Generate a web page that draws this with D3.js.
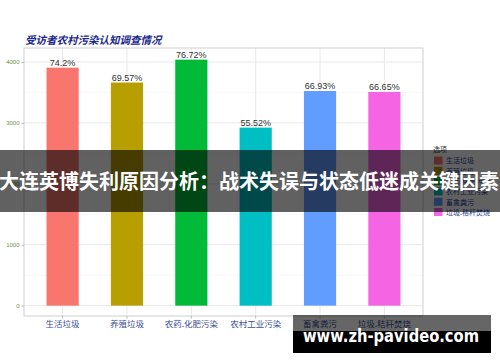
<!DOCTYPE html>
<html>
<head>
<meta charset="utf-8">
<script src="https://cdn.jsdelivr.net/npm/d3@7"></script>
<style>
  body { margin: 0; background: #fff; }
  svg { display: block; }
</style>
</head>
<body>
<svg id="chart" width="500" height="362"></svg>
<script>
// 受访者农村污染认知调查情况 bar chart

var categories = ['生活垃圾', '养殖垃圾', '农药.化肥污染', '农村工业污染', '畜禽粪污', '垃圾.秸秆焚烧'];
var counts = [3907, 3663, 4039, 2923, 3524, 3509];
var pctLabels = ['74.2%', '69.57%', '76.72%', '55.52%', '66.93%', '66.65%'];
var colors = ['#F8766D', '#B79F00', '#00BA38', '#00BFC4', '#619CFF', '#F564E3'];
var yTicks = [0, 1000, 2000, 3000, 4000];
var yMinor = [500, 1500, 2500, 3500];

var cjk = '"Noto Sans CJK SC", "Noto Sans", sans-serif';

var svg = d3.select('svg#chart');

const panel = {left: 24, right: 423, top: 48, bottom: 316};

var x = d3.scaleBand()
  .domain(categories)
  .range([panel.left, panel.right])
  .paddingInner(0.5)
  .paddingOuter(0.35);

var y = d3.scaleLinear()
  .domain([-170, 4230])
  .range([panel.bottom, panel.top]);

// panel background + grid
svg.append('rect')
  .attr('x', panel.left).attr('y', panel.top)
  .attr('width', panel.right - panel.left)
  .attr('height', panel.bottom - panel.top)
  .attr('fill', '#fff');

svg.append('g').selectAll('line')
  .data(yMinor).enter().append('line')
  .attr('x1', panel.left).attr('x2', panel.right)
  .attr('y1', d => y(d)).attr('y2', d => y(d))
  .attr('stroke', '#f4f4f4').attr('stroke-width', 0.6);

svg.append('g').selectAll('line')
  .data(yTicks).enter().append('line')
  .attr('x1', panel.left).attr('x2', panel.right)
  .attr('y1', d => y(d)).attr('y2', d => y(d))
  .attr('stroke', '#e8e8e8').attr('stroke-width', 1);

svg.append('g').selectAll('line')
  .data(categories).enter().append('line')
  .attr('x1', d => x(d) + x.bandwidth() / 2).attr('x2', d => x(d) + x.bandwidth() / 2)
  .attr('y1', panel.top).attr('y2', panel.bottom)
  .attr('stroke', '#e8e8e8').attr('stroke-width', 1);

// bars
svg.append('g').selectAll('rect')
  .data(categories).enter().append('rect')
  .attr('x', d => x(d))
  .attr('width', x.bandwidth())
  .attr('y', (d, i) => y(counts[i]))
  .attr('height', (d, i) => y(0) - y(counts[i]))
  .attr('fill', (d, i) => colors[i]);

// value labels
svg.append('g').selectAll('text')
  .data(categories).enter().append('text')
  .attr('x', d => x(d) + x.bandwidth() / 2)
  .attr('y', (d, i) => y(counts[i]) - 2)
  .attr('text-anchor', 'middle')
  .style('font-family', 'Arial, "Liberation Sans", sans-serif')
  .style('font-size', '9px')
  .attr('fill', '#333')
  .text((d, i) => pctLabels[i]);

// panel border
svg.append('rect')
  .attr('x', panel.left).attr('y', panel.top)
  .attr('width', panel.right - panel.left)
  .attr('height', panel.bottom - panel.top)
  .attr('fill', 'none')
  .attr('stroke', '#cfcfcf').attr('stroke-width', 1);

// y axis
var yAxis = svg.append('g')
  .attr('transform', 'translate(' + panel.left + ',0)')
  .call(d3.axisLeft(y).tickValues(yTicks).tickSize(2.5).tickPadding(2).tickFormat(d3.format('d')));
yAxis.select('.domain').remove();
yAxis.selectAll('line').attr('stroke', '#bbb');
yAxis.selectAll('text')
  .style('font-family', 'Arial, "Liberation Sans", sans-serif')
  .style('font-size', '6px')
  .attr('fill', '#6f9040');

// x axis
var xAxis = svg.append('g')
  .attr('transform', 'translate(0,' + panel.bottom + ')')
  .call(d3.axisBottom(x).tickSize(2.5).tickPadding(2));
xAxis.select('.domain').remove();
xAxis.selectAll('line').attr('stroke', '#bbb');
xAxis.selectAll('text')
  .style('font-family', cjk)
  .style('font-size', '8.5px')
  .attr('fill', '#3a4f96');

// title
svg.append('text')
  .attr('x', 25).attr('y', 44)
  .style('font-family', cjk)
  .style('font-size', '10.5px')
  .style('font-weight', 'bold')
  .style('font-style', 'italic')
  .attr('fill', '#1c2a8c')
  .text('受访者农村污染认知调查情况');

// legend
var legend = svg.append('g').attr('transform', 'translate(433,0)');
legend.append('text')
  .attr('x', 0).attr('y', 152)
  .style('font-family', cjk)
  .style('font-size', '7px')
  .attr('fill', '#333')
  .text('选项');
var items = legend.selectAll('g.item')
  .data(categories).enter().append('g')
  .attr('class', 'item')
  .attr('transform', (d, i) => 'translate(0,' + (156.5 + i * 10.3) + ')');
items.append('rect')
  .attr('x', 1).attr('y', 0)
  .attr('width', 8.5).attr('height', 8)
  .attr('fill', (d, i) => colors[i]);
items.append('text')
  .attr('x', 13).attr('y', 6.8)
  .style('font-family', cjk)
  .style('font-size', '7px')
  .attr('fill', '#2a3f96')
  .text(d => d);

// overlay banner
svg.append('rect')
  .attr('x', 0).attr('y', 150)
  .attr('width', 500).attr('height', 62)
  .attr('fill', 'rgba(0,0,0,0.62)');
svg.append('text')
  .attr('x', 249).attr('y', 189)
  .attr('text-anchor', 'middle')
  .style('font-family', cjk)
  .style('font-size', '20px')
  .style('font-weight', 'bold')
  .attr('fill', '#fff')
  .text('大连英博失利原因分析：战术失误与状态低迷成关键因素');

// watermark
svg.append('rect')
  .attr('x', 293).attr('y', 315)
  .attr('width', 198).attr('height', 16)
  .attr('fill', 'rgba(0,0,0,0.6)');
svg.append('rect')
  .attr('x', 293).attr('y', 331)
  .attr('width', 198).attr('height', 22)
  .attr('fill', '#000');
svg.append('text')
  .attr('x', 303).attr('y', 342)
  .attr('textLength', 176)
  .attr('lengthAdjust', 'spacingAndGlyphs')
  .style('font-family', '"DejaVu Sans", sans-serif')
  .style('font-size', '17px')
  .style('font-weight', 'bold')
  .attr('fill', '#fff')
  .text('www.zh-pavideo.com');
</script>
</body>
</html>
